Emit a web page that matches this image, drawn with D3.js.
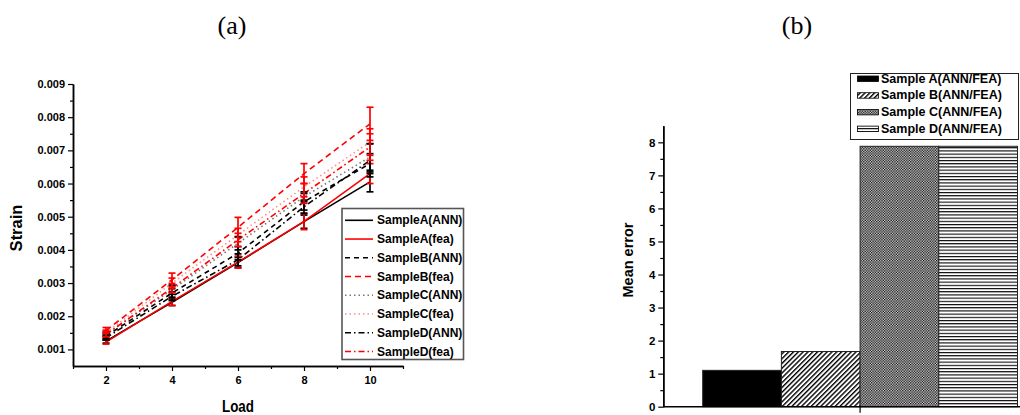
<!DOCTYPE html>
<html>
<head>
<meta charset="utf-8">
<script src="https://cdn.jsdelivr.net/npm/d3@7/dist/d3.min.js"></script>
<style>
  html, body { margin: 0; padding: 0; background: #fff; }
  svg { display: block; }
  text { font-family: "Liberation Sans", Arial, sans-serif; }
</style>
</head>
<body>
<svg id="fig" width="1020" height="415"></svg>
<script>
// ---- Panel (a): strain vs load ----
const loads = [2, 4, 6, 8, 10];
const xTicksA = [2, 4, 6, 8, 10];
const yTicksA = [0.001, 0.002, 0.003, 0.004, 0.005, 0.006, 0.007, 0.008, 0.009];

const seriesNames = ["SampleA(ANN)", "SampleA(fea)", "SampleB(ANN)", "SampleB(fea)",
                     "SampleC(ANN)", "SampleC(fea)", "SampleD(ANN)", "SampleD(fea)"];
const sampleA_ANN = [0.00125, 0.00242, 0.00362, 0.00485, 0.00605];
const sampleA_fea = [0.00122, 0.00245, 0.00363, 0.00486, 0.00630];
const sampleB_ANN = [0.00140, 0.00270, 0.00390, 0.00545, 0.00660];
const sampleB_fea = [0.00157, 0.00310, 0.00468, 0.00630, 0.00780];
const sampleC_ANN = [0.00145, 0.00280, 0.00420, 0.00560, 0.00680];
const sampleC_fea = [0.00150, 0.00300, 0.00445, 0.00590, 0.00725];
const sampleD_ANN = [0.00135, 0.00260, 0.00370, 0.00530, 0.00670];
const sampleD_fea = [0.00145, 0.00285, 0.00430, 0.00570, 0.00710];

const errA_ANN = [0.00006, 0.00010, 0.00015, 0.00020, 0.00030];
const errA_fea = [0.00006, 0.00012, 0.00018, 0.00025, 0.00030];
const errB_ANN = [0.00007, 0.00013, 0.00020, 0.00025, 0.00030];
const errB_fea = [0.00009, 0.00020, 0.00030, 0.00030, 0.00050];
const errC_ANN = [0.00007, 0.00014, 0.00020, 0.00015, 0.00040];
const errC_fea = [0.00008, 0.00015, 0.00020, 0.00030, 0.00040];
const errD_ANN = [0.00007, 0.00013, 0.00018, 0.00020, 0.00050];
const errD_fea = [0.00007, 0.00014, 0.00020, 0.00030, 0.00040];

// ---- Panel (b): mean error per sample ----
const barCategory = [""];
const barNames = ["Sample A(ANN/FEA)", "Sample B(ANN/FEA)", "Sample C(ANN/FEA)", "Sample D(ANN/FEA)"];
const meanError = [1.1, 1.67, 7.88, 7.88];
const yTicksB = [0, 1, 2, 3, 4, 5, 6, 7, 8];

const svg = d3.select("#fig");
const FONT = "'Liberation Sans', Arial, sans-serif";

// patterns for the bars
const defs = svg.append("defs");
const pDiag = defs.append("pattern").attr("id", "diag").attr("patternUnits", "userSpaceOnUse")
  .attr("width", 3.4).attr("height", 3.4).attr("patternTransform", "rotate(45)");
pDiag.append("rect").attr("width", 3.4).attr("height", 3.4).attr("fill", "#fff");
pDiag.append("rect").attr("x", 0).attr("width", 1.4).attr("height", 3.4).attr("fill", "#000");

const pCheck = defs.append("pattern").attr("id", "check").attr("patternUnits", "userSpaceOnUse")
  .attr("width", 2.6).attr("height", 2.6);
pCheck.append("rect").attr("width", 2.6).attr("height", 2.6).attr("fill", "#e4e4e4");
pCheck.append("rect").attr("width", 1.3).attr("height", 1.3).attr("fill", "#000");
pCheck.append("rect").attr("x", 1.3).attr("y", 1.3).attr("width", 1.3).attr("height", 1.3).attr("fill", "#000");

const pHoriz = defs.append("pattern").attr("id", "horiz").attr("patternUnits", "userSpaceOnUse")
  .attr("width", 4).attr("height", 3.2);
pHoriz.append("rect").attr("width", 4).attr("height", 3.2).attr("fill", "#fff");
pHoriz.append("rect").attr("y", 0).attr("width", 4).attr("height", 1.1).attr("fill", "#000");

const barFills = ["#000", "url(#diag)", "url(#check)", "url(#horiz)"];

// ---- panel titles ----
svg.append("text").attr("x", 232).attr("y", 34).attr("text-anchor", "middle")
  .style("font-family", "'Liberation Serif', 'Times New Roman', serif").style("font-size", "26px").text("(a)");
svg.append("text").attr("x", 797).attr("y", 34).attr("text-anchor", "middle")
  .style("font-family", "'Liberation Serif', 'Times New Roman', serif").style("font-size", "26px").text("(b)");

// ================= Panel (a) =================
const xA = d3.scaleLinear().domain([1, 11]).range([73, 403]);
const yA = d3.scaleLinear().domain([0.0005, 0.009]).range([366, 84]);
const gA = svg.append("g");

function styleAxis(g) {
  g.select(".domain").attr("stroke", "#000").attr("stroke-width", 1.5);
  g.selectAll(".tick line").attr("stroke", "#000").attr("stroke-width", 1.2);
  g.selectAll("text").style("font-family", FONT).style("font-weight", "bold").style("font-size", "11px").attr("fill", "#000");
}

// minor ticks
gA.append("g").attr("transform", `translate(0,${yA(0.0005)})`)
  .call(d3.axisBottom(xA).tickValues([1, 3, 5, 7, 9, 11]).tickSize(3).tickSizeOuter(0).tickFormat(""))
  .call(styleAxis);
gA.append("g").attr("transform", `translate(${xA(1)},0)`)
  .call(d3.axisLeft(yA).tickValues(d3.range(0.0015, 0.009, 0.001)).tickSize(3).tickSizeOuter(0).tickFormat(""))
  .call(styleAxis);
// major ticks
gA.append("g").attr("transform", `translate(0,${yA(0.0005)})`)
  .call(d3.axisBottom(xA).tickValues(xTicksA).tickSize(5).tickSizeOuter(0).tickPadding(5).tickFormat(d3.format("d")))
  .call(styleAxis);
gA.append("g").attr("transform", `translate(${xA(1)},0)`)
  .call(d3.axisLeft(yA).tickValues(yTicksA).tickSize(5).tickSizeOuter(0).tickPadding(3).tickFormat(d3.format(".3f")))
  .call(styleAxis);

gA.append("text").attr("transform", `translate(16,228) rotate(-90)`).attr("text-anchor", "middle")
  .attr("dominant-baseline", "central")
  .style("font-family", FONT).style("font-weight", "bold").style("font-size", "16.5px").text("Strain");
gA.append("text").attr("x", 238).attr("y", 412).attr("text-anchor", "middle")
  .attr("textLength", 32).attr("lengthAdjust", "spacingAndGlyphs")
  .style("font-family", FONT).style("font-weight", "bold").style("font-size", "16.5px").text("Load");

const seriesVals = [sampleA_ANN, sampleA_fea, sampleB_ANN, sampleB_fea, sampleC_ANN, sampleC_fea, sampleD_ANN, sampleD_fea];
const seriesErr = [errA_ANN, errA_fea, errB_ANN, errB_fea, errC_ANN, errC_fea, errD_ANN, errD_fea];
const seriesColor = ["#000", "#ff0000", "#000", "#ff0000", "#777", "#ff8c8c", "#000", "#ff0000"];
const barColor = ["#000", "#ff0000", "#000", "#ff0000", "#000", "#ff0000", "#000", "#ff0000"];
const seriesDash = [null, null, "5,4", "6,4", "1.5,3", "1.5,3", "6,3,1.5,3", "6,3,1.5,3"];

const line = d3.line().x(d => xA(d[0])).y(d => yA(d[1]));
const series = seriesNames.map((name, i) => ({
  name, color: seriesColor[i], dash: seriesDash[i], ebColor: barColor[i],
  pts: loads.map((x, j) => [x, seriesVals[i][j], seriesErr[i][j]])
}));

// lines
gA.selectAll("path.series").data(series).enter().append("path")
  .attr("class", "series")
  .attr("d", d => line(d.pts))
  .attr("fill", "none").attr("stroke", d => d.color).attr("stroke-width", 1.6)
  .attr("stroke-dasharray", d => d.dash);

// error bars
const capW = 3.5;
series.forEach(s => {
  const g = gA.append("g").attr("stroke", s.ebColor).attr("stroke-width", 1.7);
  s.pts.forEach(p => {
    const cx = xA(p[0]), y1 = yA(p[1] + p[2]), y2 = yA(p[1] - p[2]);
    g.append("line").attr("x1", cx).attr("x2", cx).attr("y1", y1).attr("y2", y2);
    g.append("line").attr("x1", cx - capW).attr("x2", cx + capW).attr("y1", y1).attr("y2", y1);
    g.append("line").attr("x1", cx - capW).attr("x2", cx + capW).attr("y1", y2).attr("y2", y2);
  });
});

// legend (a)
const legA = gA.append("g");
legA.append("rect").attr("x", 342).attr("y", 208.5).attr("width", 121.5).attr("height", 151)
  .attr("fill", "#fff").attr("stroke", "#555").attr("stroke-width", 1.6);
series.forEach((s, i) => {
  const cy = 220.3 + i * 18.75;
  legA.append("line").attr("x1", 345).attr("x2", 373).attr("y1", cy).attr("y2", cy)
    .attr("stroke", s.color).attr("stroke-width", 1.6).attr("stroke-dasharray", s.dash);
  legA.append("text").attr("x", 377).attr("y", cy).attr("dominant-baseline", "central")
    .style("font-family", FONT).style("font-weight", "bold").style("font-size", "12px").text(s.name);
});

// ================= Panel (b) =================
const yB = d3.scaleLinear().domain([0, 8.5]).range([406.7, 125.8]);
const x0 = d3.scaleBand().domain(barCategory).range([702.7, 1017.5]);
const x1 = d3.scaleBand().domain(barNames).range([0, x0.bandwidth()]);
const gB = svg.append("g");

// bars
gB.selectAll("rect.bar").data(barNames.map((n, i) => ({ n, v: meanError[i], f: barFills[i] })))
  .enter().append("rect").attr("class", "bar")
  .attr("x", d => x0(barCategory[0]) + x1(d.n))
  .attr("y", d => yB(d.v))
  .attr("width", x1.bandwidth())
  .attr("height", d => yB(0) - yB(d.v))
  .attr("fill", d => d.f).attr("stroke", "#222").attr("stroke-width", 1);

// y axis (b)
gB.append("g").attr("transform", `translate(663.3,0)`)
  .call(d3.axisLeft(yB).tickValues(d3.range(0.5, 8.5, 1)).tickSize(3).tickSizeOuter(0).tickFormat(""))
  .call(styleAxis);
gB.append("g").attr("transform", `translate(663.3,0)`)
  .call(d3.axisLeft(yB).tickValues(yTicksB).tickSize(5).tickSizeOuter(0).tickPadding(3).tickFormat(d3.format("d")))
  .call(styleAxis)
  .call(g => g.selectAll("text").style("font-size", "11.5px"));

// x axis (b)
const xAxisB = gB.append("g").attr("transform", `translate(0,${yB(0)})`)
  .call(d3.axisBottom(x0).tickSize(6).tickSizeOuter(0).tickFormat(""))
  .call(styleAxis);
xAxisB.select(".domain").remove();
gB.append("line").attr("x1", 663.3).attr("x2", 1020).attr("y1", yB(0)).attr("y2", yB(0))
  .attr("stroke", "#000").attr("stroke-width", 1.5);

gB.append("text").attr("transform", `translate(628,260) rotate(-90)`).attr("text-anchor", "middle")
  .attr("dominant-baseline", "central")
  .style("font-family", FONT).style("font-weight", "bold").style("font-size", "14.5px").text("Mean error");

// legend (b)
const legB = gB.append("g");
legB.append("rect").attr("x", 850.5).attr("y", 73.5).attr("width", 168).attr("height", 66)
  .attr("fill", "#fff").attr("stroke", "#222").attr("stroke-width", 1);
barNames.forEach((n, i) => {
  const cy = 78.5 + i * 16.7;
  legB.append("rect").attr("x", 857.5).attr("y", cy - 2.5).attr("width", 21).attr("height", 5.5)
    .attr("fill", barFills[i]).attr("stroke", "#000").attr("stroke-width", 0.8);
  legB.append("text").attr("x", 881).attr("y", cy).attr("dominant-baseline", "central")
    .style("font-family", FONT).style("font-weight", "bold").style("font-size", "12.5px").text(n);
});
</script>
</body>
</html>
